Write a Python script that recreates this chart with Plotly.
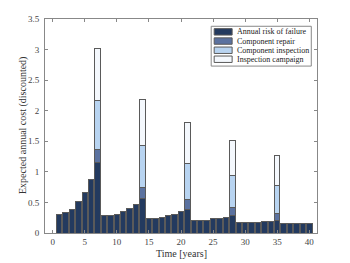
import plotly.graph_objects as go

years = list(range(1, 41))
risk = [0.31, 0.34, 0.39, 0.51, 0.66, 0.87, 1.15,
        0.28, 0.28, 0.31, 0.35, 0.40, 0.47, 0.56,
        0.24, 0.24, 0.26, 0.28, 0.30, 0.35, 0.39,
        0.21, 0.21, 0.21, 0.23, 0.24, 0.26, 0.28,
        0.17, 0.17, 0.17, 0.17, 0.185, 0.195, 0.20,
        0.15, 0.15, 0.15, 0.15, 0.15]
# extra costs only in campaign years
campaign_years = [7, 14, 21, 28, 35]
repair_vals = [0.22, 0.19, 0.15, 0.14, 0.12]
inspection_vals = [0.79, 0.68, 0.59, 0.52, 0.45]
campaign_vals = [0.86, 0.76, 0.67, 0.57, 0.50]

repair = [None] * 40
inspection = [None] * 40
campaign = [None] * 40
for y, r, i, c in zip(campaign_years, repair_vals, inspection_vals, campaign_vals):
    repair[y - 1] = r
    inspection[y - 1] = i
    campaign[y - 1] = c

series = [
    ("Annual risk of failure", risk, "#233a5f"),
    ("Component repair", repair, "#5b72a0"),
    ("Component inspection", inspection, "#b8d4f1"),
    ("Inspection campaign", campaign, "#f4f8fd"),
]

font = "Liberation Serif, DejaVu Serif, serif"
edge = "#5a5a5a"
fig = go.Figure()
for name, vals, col in series:
    fig.add_trace(go.Bar(x=years, y=vals, name=name, width=0.85, showlegend=False,
                         marker=dict(color=col, line=dict(color=edge, width=1))))

# custom compact legend (paper coordinates)
shapes = [dict(type="rect", xref="paper", yref="paper", x0=0.611, x1=0.979, y0=0.780, y1=0.966,
               line=dict(color="#888888", width=1), fillcolor="white", layer="above")]
annotations = []
row_y = [0.940, 0.897, 0.854, 0.812]
for (name, vals, col), yc in zip(series, row_y):
    shapes.append(dict(type="rect", xref="paper", yref="paper", x0=0.622, x1=0.688,
                       y0=yc - 0.015, y1=yc + 0.015, fillcolor=col,
                       line=dict(color=edge, width=1), layer="above"))
    annotations.append(dict(xref="paper", yref="paper", x=0.697, y=yc, text=name,
                            showarrow=False, xanchor="left", yanchor="middle",
                            font=dict(size=8, family=font, color="#222222")))

# axis titles
annotations.append(dict(xref="paper", yref="paper", x=0.5, y=0, yshift=-20.5,
                        text="Time [years]", showarrow=False, xanchor="center", yanchor="middle",
                        font=dict(size=10, family=font, color="#333333")))
annotations.append(dict(xref="paper", yref="paper", x=0, y=0.5, xshift=-22,
                        text="Expected annual cost (discounted)", textangle=-90,
                        showarrow=False, xanchor="center", yanchor="middle",
                        font=dict(size=10, family=font, color="#333333")))

axis_common = dict(showline=True, linecolor="#888888", linewidth=1, mirror="ticks",
                   ticks="inside", ticklen=3, tickcolor="#888888", showgrid=False,
                   zeroline=False, automargin=False,
                   tickfont=dict(size=9, family=font, color="#444444"))
# page body has an 8px margin, so the figure is shifted by (8, 8) inside the window
fig.update_layout(
    barmode="stack",
    width=342, height=255,
    margin=dict(l=37, r=33, t=11, b=29.5),
    plot_bgcolor="white", paper_bgcolor="white",
    font=dict(family=font, size=9, color="#333333"),
    shapes=shapes, annotations=annotations,
    xaxis=dict(range=[-1.2, 41.2], tickvals=list(range(0, 41, 5)), ticklabelstandoff=0,
               **axis_common),
    yaxis=dict(range=[0, 3.5], tickvals=[0, 0.5, 1, 1.5, 2, 2.5, 3, 3.5],
               ticktext=["0", "0.5", "1", "1.5", "2", "2.5", "3", "3.5"], ticklabelstandoff=3,
               **axis_common),
)
fig.write_html("out.html")
